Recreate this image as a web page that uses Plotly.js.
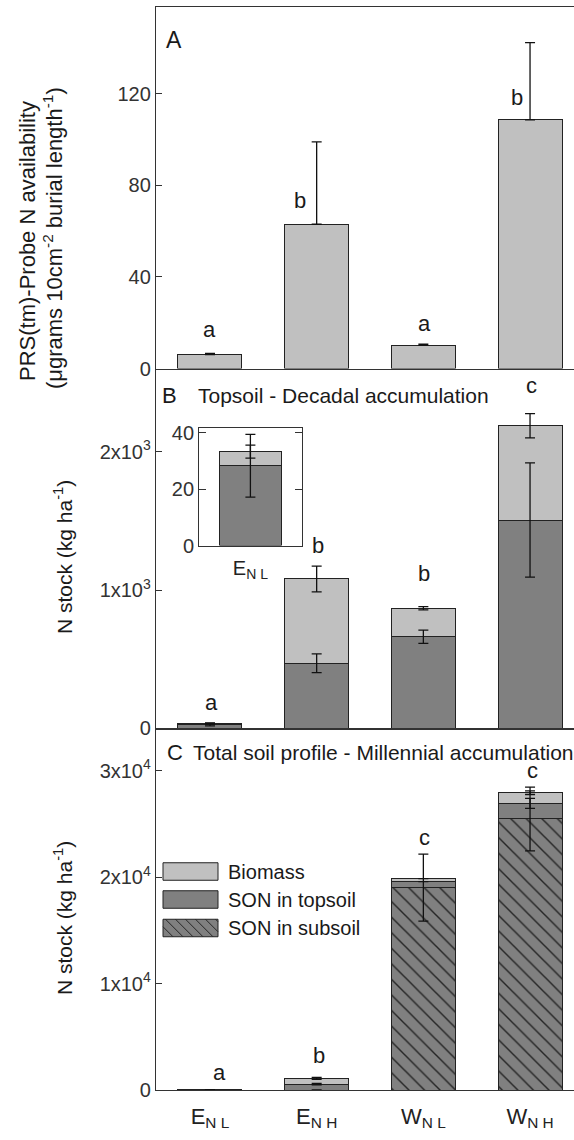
<!DOCTYPE html>
<html><head><meta charset="utf-8">
<script src="https://cdn.plot.ly/plotly-3.0.1.min.js"></script>
<style>body{margin:0;background:#fff}</style>
</head><body><div id="chart" style="width:574px;height:1140px"></div>
<script>
// ---------- DATA ----------
const categories = ['E<sub>N L</sub>', 'E<sub>N H</sub>', 'W<sub>N L</sub>', 'W<sub>N H</sub>'];

// Panel A: PRS probe N availability
const prsValues = [6.1, 63, 10.2, 108.6];
const prsErrors = [0.5, 36, 0.4, 33.7];
const prsLetters = ['a', 'b', 'a', 'b'];

// Panel B: topsoil decadal accumulation (kg/ha)
const topsoilSON = [28.3, 470, 662, 1506];
const topsoilSONErr = [11.1, 68, 48, 413];
const topsoilBiomass = [5, 610, 206, 682];
const topsoilTotalErr = [2.3, 93, 12, 88];
const topsoilLetters = ['a', 'b', 'b', 'c'];

// Panel C: total soil profile millennial accumulation (kg/ha)
const profileSubsoil = [0, 0, 19020, 25470];
const profileSubsoilErr = [0, 0, 3150, 3000];
const profileTopsoil = [28, 560, 560, 1470];
const profileTopsoilErr = [11, 68, 0, 470];
const profileBiomass = [5, 540, 280, 1000];
const profileBiomassErr = [2, 93, 0, 170];
const profileLetters = ['a', 'b', 'c', 'c'];

const legendLabels = ['Biomass', 'SON in topsoil', 'SON in subsoil'];

// ---------- LAYOUT HELPERS ----------
const W = 574, H = 1140, ML = 156, MR = 0, MT = 7, MB = 50;
const PW = W - ML - MR, PH = H - MT - MB;
const px2x = p => (p - ML) / PW;
const py2y = p => (H - MB - p) / PH;

const idx = categories.map((_, i) => i);
const FONT = 'Liberation Sans, Arial, sans-serif';
const INK = '#1a1a1a';
const LIGHT = '#c0c0c0', DARK = '#808080';
const OUTLINE = {color: '#222', width: 1};
const BW = 0.6;

function errTrace(xa, ya, xs, ys, plus, minus) {
  return {type: 'scatter', mode: 'markers', xaxis: xa, yaxis: ya, x: xs, y: ys,
    marker: {size: 1, color: 'rgba(0,0,0,0)'}, hoverinfo: 'skip',
    error_y: {type: 'data', array: plus, arrayminus: minus, symmetric: false,
      color: '#111', thickness: 1.3, width: 5}};
}
const add = (a, b) => a.map((v, i) => v + b[i]);
const zeros = idx.map(() => 0);

const traces = [];
// Panel A
traces.push({type: 'bar', xaxis: 'x3', yaxis: 'y', x: idx, y: prsValues, width: BW,
  marker: {color: LIGHT, line: OUTLINE}, hoverinfo: 'skip'});
traces.push(errTrace('x3', 'y', idx, prsValues, prsErrors, zeros));

// Panel B
const bTotal = add(topsoilSON, topsoilBiomass);
traces.push({type: 'bar', xaxis: 'x2', yaxis: 'y2', x: idx, y: topsoilSON, width: BW,
  marker: {color: DARK, line: OUTLINE}, hoverinfo: 'skip'});
traces.push({type: 'bar', xaxis: 'x2', yaxis: 'y2', x: idx, y: topsoilBiomass, width: BW,
  marker: {color: LIGHT, line: OUTLINE}, hoverinfo: 'skip'});
traces.push(errTrace('x2', 'y2', idx, topsoilSON, topsoilSONErr, topsoilSONErr));
traces.push(errTrace('x2', 'y2', idx, bTotal, topsoilTotalErr, topsoilTotalErr));

// Inset (E_NL)
traces.push({type: 'bar', xaxis: 'x4', yaxis: 'y4', x: [0], y: [topsoilSON[0]], width: BW,
  marker: {color: DARK, line: OUTLINE}, hoverinfo: 'skip'});
traces.push({type: 'bar', xaxis: 'x4', yaxis: 'y4', x: [0], y: [topsoilBiomass[0]], width: BW,
  marker: {color: LIGHT, line: OUTLINE}, hoverinfo: 'skip'});
traces.push(errTrace('x4', 'y4', [0], [topsoilSON[0]], [topsoilSONErr[0]], [topsoilSONErr[0]]));
traces.push(errTrace('x4', 'y4', [0], [bTotal[0]], [topsoilTotalErr[0]], [topsoilTotalErr[0]]));

// Panel C
const cTop = add(profileSubsoil, profileTopsoil);
const cTotal = add(cTop, profileBiomass);
traces.push({type: 'bar', xaxis: 'x', yaxis: 'y3', x: idx, y: profileSubsoil, width: BW,
  marker: {color: DARK, line: OUTLINE,
    pattern: {shape: '\\', size: 11, solidity: 0.13, fgcolor: '#262626', bgcolor: DARK}},
  hoverinfo: 'skip'});
traces.push({type: 'bar', xaxis: 'x', yaxis: 'y3', x: idx, y: profileTopsoil, width: BW,
  marker: {color: DARK, line: OUTLINE}, hoverinfo: 'skip'});
traces.push({type: 'bar', xaxis: 'x', yaxis: 'y3', x: idx, y: profileBiomass, width: BW,
  marker: {color: LIGHT, line: OUTLINE}, hoverinfo: 'skip'});
traces.push(errTrace('x', 'y3', idx, profileSubsoil, profileSubsoilErr, profileSubsoilErr));
traces.push(errTrace('x', 'y3', idx, cTop, profileTopsoilErr, profileTopsoilErr));
traces.push(errTrace('x', 'y3', idx, cTotal, profileBiomassErr, profileBiomassErr));

// ---------- AXES ----------
const XR = [-0.506, 3.412];
const axLine = {showline: true, linecolor: '#333', linewidth: 1.2, showgrid: false, zeroline: false};
const yTick = {ticks: 'inside', ticklen: 6, tickwidth: 1, tickcolor: '#333',
  tickfont: {size: 20, color: '#333', family: FONT}};

const dA = [py2y(368.5), 1], dB = [py2y(728.3), py2y(368.5)], dC = [0, py2y(728.3)];

const layout = {
  width: W, height: H, margin: {l: ML, r: MR, t: MT, b: MB},
  paper_bgcolor: '#fff', plot_bgcolor: 'rgba(0,0,0,0)', showlegend: false, barmode: 'stack',
  font: {family: FONT, color: INK},
  xaxis: Object.assign({}, axLine, {anchor: 'y3', domain: [0, 1], range: XR, tickvals: idx,
    ticktext: categories, ticks: '', tickfont: {size: 22, color: '#222', family: FONT}, ticklabelstandoff: 6}),
  xaxis2: Object.assign({}, axLine, {anchor: 'y2', domain: [0, 1], range: XR, showticklabels: false, ticks: ''}),
  xaxis3: Object.assign({}, axLine, {anchor: 'y', domain: [0, 1], range: XR, showticklabels: false, ticks: '', mirror: true}),
  yaxis: Object.assign({}, axLine, yTick, {anchor: 'x3', domain: dA, range: [0, 157.9], tickvals: [0, 40, 80, 120]}),
  yaxis2: Object.assign({}, axLine, yTick, {anchor: 'x2', domain: dB, range: [0, 2601.6], tickvals: [0, 1000, 2000],
    ticktext: ['0', '1x10<sup>3</sup>', '2x10<sup>3</sup>']}),
  yaxis3: Object.assign({}, axLine, yTick, {anchor: 'x', domain: dC, range: [0, 33994], tickvals: [0, 10000, 20000, 30000],
    ticktext: ['0', '1x10<sup>4</sup>', '2x10<sup>4</sup>', '3x10<sup>4</sup>']}),
  xaxis4: Object.assign({}, axLine, {anchor: 'y4', domain: [px2x(199.3), px2x(301.5)], range: [-0.5, 0.5],
    tickvals: [0], ticktext: [categories[0]], ticks: '', mirror: true, tickfont: {size: 20, color: '#222', family: FONT}, ticklabelstandoff: 4}),
  yaxis4: Object.assign({}, axLine, yTick, {anchor: 'x4', domain: [py2y(545.5), py2y(427.7)], range: [0, 41.8],
    tickvals: [0, 20, 40], mirror: 'ticks', ticklen: 7}),
  annotations: [], shapes: []
};

// ---------- TEXT ----------
function txt(text, x, y, opts) {
  return Object.assign({text: text, xref: 'paper', yref: 'paper', x: px2x(x), y: py2y(y),
    showarrow: false, xanchor: 'left', yanchor: 'middle', font: {size: 21, color: INK, family: FONT}}, opts || {});
}
const ann = layout.annotations;
ann.push(txt('A', 164, 40, {font: {size: 23, color: INK, family: FONT}}));
ann.push(txt('B', 160, 395.5, {font: {size: 22, color: INK, family: FONT}}));
ann.push(txt('Topsoil - Decadal accumulation', 196, 395.5));
ann.push(txt('C', 165, 752.5, {font: {size: 22, color: INK, family: FONT}}));
ann.push(txt('Total soil profile - Millennial accumulation', 191, 752.5));
ann.push(txt('PRS(tm)-Probe N availability', 27, 241, {xanchor: 'center', textangle: -90, font: {size: 22, color: INK, family: FONT}}));
ann.push(txt('(μgrams 10cm<sup>-2</sup> burial length<sup>-1</sup>)', 53, 238, {xanchor: 'center', textangle: -90, font: {size: 22, color: INK, family: FONT}}));
ann.push(txt('N stock (kg ha<sup>-1</sup>)', 63, 557, {xanchor: 'center', textangle: -90, font: {size: 21, color: INK, family: FONT}}));
ann.push(txt('N stock (kg ha<sup>-1</sup>)', 63, 918, {xanchor: 'center', textangle: -90, font: {size: 21, color: INK, family: FONT}}));

// significance letters: anchored on bar / error-bar tops with pixel offsets
function letter(t, xa, ya, xv, yv, dx, dy) {
  ann.push({text: t, xref: xa, yref: ya, x: xv, y: yv, showarrow: false, xanchor: 'center', yanchor: 'middle',
    xshift: dx, yshift: dy, font: {size: 22, color: INK, family: FONT}});
}
const aAnchor = [prsValues[0] + prsErrors[0], prsValues[1], prsValues[2] + prsErrors[2], prsValues[3]];
const aDx = [0, -17, 1, -13], aDy = [24, 24, 21, 22];
prsLetters.forEach((t, i) => letter(t, 'x3', 'y', i, aAnchor[i], aDx[i], aDy[i]));
const bAnchor = idx.map(i => Math.max(bTotal[i] + topsoilTotalErr[i], topsoilSON[i] + topsoilSONErr[i]));
const bDx = [2, 1, 1, 1], bDy = [20, 21, 33, 28];
topsoilLetters.forEach((t, i) => letter(t, 'x2', 'y2', i, bAnchor[i], bDx[i], bDy[i]));
const cAnchor = idx.map(i => Math.max(cTotal[i] + profileBiomassErr[i], cTop[i] + profileTopsoilErr[i], profileSubsoil[i] + profileSubsoilErr[i]));
const cDx = [10, 2, 1, 2], cDy = [17, 22, 17, 17];
profileLetters.forEach((t, i) => letter(t, 'x', 'y3', i, cAnchor[i], cDx[i], cDy[i]));

// ---------- LEGEND (drawn) ----------
const legRows = [871.5, 899.5, 928];
const legFill = [LIGHT, DARK, DARK];
const lx0 = 163, lx1 = 218, lh = 17.5;
legRows.forEach((cy, k) => {
  const top = cy - lh / 2, bot = cy + lh / 2;
  layout.shapes.push({type: 'rect', xref: 'paper', yref: 'paper', x0: px2x(lx0), x1: px2x(lx1),
    y0: py2y(bot), y1: py2y(top), fillcolor: legFill[k], line: {color: '#222', width: 1}});
  if (k === 2) {
    let path = '';
    const w = lx1 - lx0;
    for (let c = -lh; c < w; c += 10) {
      const t0 = Math.max(0, -c), t1 = Math.min(lh, w - c);
      if (t1 <= t0) continue;
      path += `M${px2x(lx0 + c + t0)},${py2y(top + t0)}L${px2x(lx0 + c + t1)},${py2y(top + t1)}`;
    }
    layout.shapes.push({type: 'path', xref: 'paper', yref: 'paper', path: path, line: {color: '#262626', width: 1}});
  }
  ann.push(txt(legendLabels[k], 226, cy, {font: {size: 20, color: INK, family: FONT}}));
});

Plotly.newPlot('chart', traces, layout, {staticPlot: true, displayModeBar: false});
</script>
</body></html>
